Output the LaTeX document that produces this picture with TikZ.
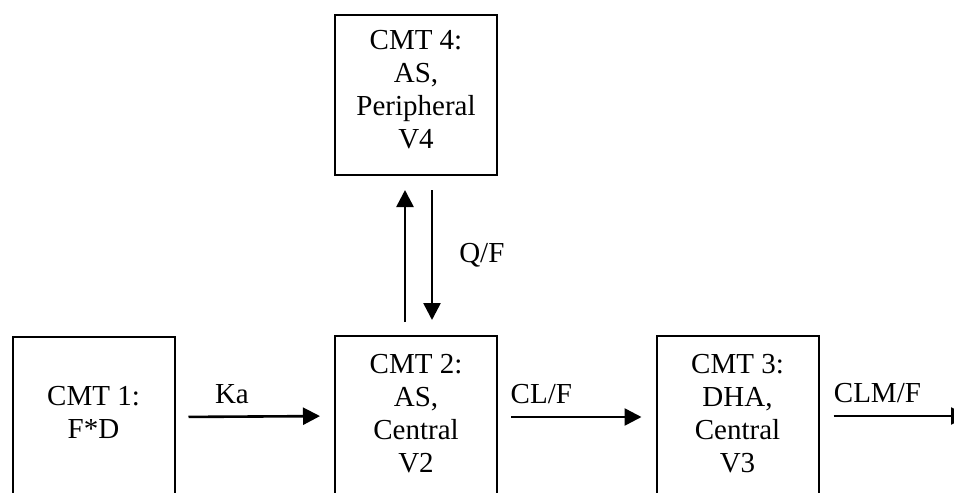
\documentclass[tikz,border=0pt]{standalone}
\usepackage{fontspec}
\setmainfont{Liberation Serif}
\usetikzlibrary{positioning,arrows.meta}

\begin{document}
\begin{tikzpicture}[x=0.5pt,y=-0.5pt,font=\fontsize{14.5}{16.5}\selectfont]
\tikzstyle{cmtbox}=[draw,line width=1pt,inner sep=0pt,minimum width=81pt,anchor=north]
\tikzstyle{cmttext}=[align=center,inner sep=0pt]
\tikzstyle{flow}=[line width=1.3pt,-{Triangle[length=8.5pt,width=8.5pt]}]
\tikzstyle{lbl}=[inner sep=0pt,anchor=base]
\useasboundingbox (0,0) rectangle (954,493);
\clip (0,0) rectangle (954,493);
% compartments
\node[cmtbox,minimum height=80pt] (cmt4) at (416,14) {};
\node[cmtbox,minimum height=110pt] (cmt1) at (93.5,336) {};
\node[cmtbox,minimum height=110pt] (cmt2) at (416,335) {};
\node[cmtbox,minimum height=110pt] (cmt3) at (737.5,335) {};
\node[cmttext,below=7.9pt of cmt4.north] (t4) {CMT 4:\\AS,\\Peripheral\\V4};
\node[cmttext,below=24.9pt of cmt1.north] (t1) {CMT 1:\\F*D};
\node[cmttext,below=9.4pt of cmt2.north] (t2) {CMT 2:\\AS,\\Central\\V2};
\node[cmttext,below=9.4pt of cmt3.north] (t3) {CMT 3:\\DHA,\\Central\\V3};
\coordinate (elim) at (968,416);
% transfers
\draw[flow,shorten <=6.5pt,shorten >=7pt] ([yshift=-40.5pt]cmt1.north east) -- node[lbl,pos=0.356,yshift=6.5pt] {Ka} ([yshift=-40.5pt]cmt2.north west);
\draw[flow,shorten <=6.5pt,shorten >=7pt] ([xshift=-5.5pt]cmt2.north) -- ([xshift=-5.5pt]cmt4.south);
\draw[flow,shorten <=7pt,shorten >=7.5pt] ([xshift=8pt]cmt4.south) -- node[cmttext,anchor=west,xshift=13pt] {Q/F} ([xshift=8pt]cmt2.north);
\draw[flow,shorten <=6.5pt,shorten >=7pt] ([yshift=-41pt]cmt2.north east) -- node[lbl,pos=0.275,yshift=7pt] {CL/F} ([yshift=-41pt]cmt3.north west);
\draw[flow,shorten <=7pt] (cmt3.east |- elim) -- node[lbl,pos=0.39,yshift=7pt] {CLM/F} (elim);
\end{tikzpicture}
\end{document}
